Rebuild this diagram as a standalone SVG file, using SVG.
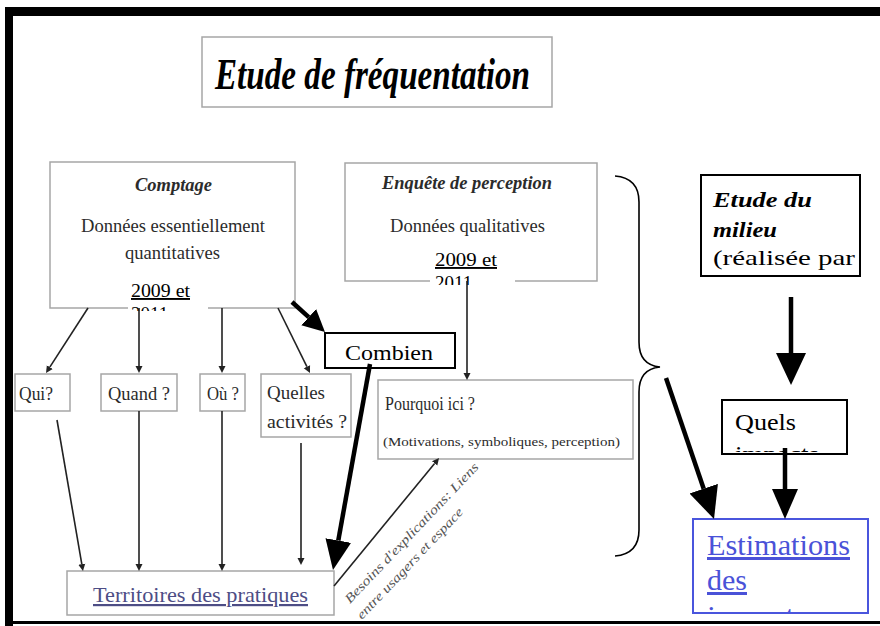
<svg xmlns="http://www.w3.org/2000/svg" width="880" height="626" viewBox="0 0 880 626">
<style>
.gbox{fill:#fff;stroke:#a6a6a6;stroke-width:1.5}
.bbox{fill:#fff;stroke:#000;stroke-width:2}
.gt{font-family:"Liberation Serif","Times New Roman",serif;fill:#2b2b2b}
.bt{font-family:"Liberation Serif","Times New Roman",serif;fill:#000}
.bi{font-weight:bold;font-style:italic}
.thin{stroke:#222;stroke-width:1.6;fill:none;marker-end:url(#hThin)}
.thick{stroke:#000;stroke-width:4.5;fill:none}
</style>
<defs>
<marker id="hThin" markerUnits="userSpaceOnUse" viewBox="0 -4 8 8" refX="0" refY="0" markerWidth="8" markerHeight="8" orient="auto"><path d="M0,-3.5 L7,0 L0,3.5 z" fill="#222"/></marker>
<marker id="hMid" markerUnits="userSpaceOnUse" viewBox="0 -12 24 24" refX="0" refY="0" markerWidth="24" markerHeight="24" orient="auto"><path d="M0,-11 L22,0 L0,11 z" fill="#000"/></marker>
<marker id="hBig" markerUnits="userSpaceOnUse" viewBox="0 -16 34 32" refX="0" refY="0" markerWidth="34" markerHeight="32" orient="auto"><path d="M0,-13 L30,0 L0,13 z" fill="#000"/></marker>
<marker id="hHuge" markerUnits="userSpaceOnUse" viewBox="0 -16 34 32" refX="0" refY="0" markerWidth="34" markerHeight="32" orient="auto"><path d="M0,-15 L32,0 L0,15 z" fill="#000"/></marker>
<clipPath id="cComp"><rect x="128" y="278" width="80" height="33"/></clipPath>
<clipPath id="cEnq"><rect x="430" y="248" width="85" height="37"/></clipPath>
<clipPath id="cQuels"><rect x="722" y="400" width="125" height="52"/></clipPath>
<clipPath id="cEst"><rect x="693" y="519" width="175" height="93"/></clipPath>
</defs>
<rect width="880" height="626" fill="#fff"/>

<g id="title">
<rect x="202" y="37" width="350" height="70" class="gbox" stroke="#8a8a8a"/>
<text x="215" y="89" class="bt bi" font-size="44" textLength="315" lengthAdjust="spacingAndGlyphs">Etude de fréquentation</text>
</g>

<g id="comptage">
<rect x="50" y="162" width="245" height="146" class="gbox"/>
<text x="135" y="191" class="gt bi" font-size="18" textLength="77" lengthAdjust="spacingAndGlyphs">Comptage</text>
<text x="81" y="232" class="gt" font-size="19" textLength="184" lengthAdjust="spacingAndGlyphs">Données essentiellement</text>
<text x="125" y="259" class="gt" font-size="19" textLength="95" lengthAdjust="spacingAndGlyphs">quantitatives</text>
<rect x="128" y="278" width="80" height="33" fill="#fff"/>
<g clip-path="url(#cComp)">
<text x="131" y="297" class="bt" font-size="19" textLength="59" lengthAdjust="spacingAndGlyphs" text-decoration="underline">2009 et</text>
<text x="131" y="320" class="bt" font-size="19">2011</text>
</g>
</g>

<g id="enquete">
<rect x="345" y="163" width="252" height="118" class="gbox"/>
<text x="382" y="189" class="gt bi" font-size="18" textLength="170" lengthAdjust="spacingAndGlyphs">Enquête de perception</text>
<text x="390" y="232" class="gt" font-size="19" textLength="155" lengthAdjust="spacingAndGlyphs">Données qualitatives</text>
<rect x="430" y="248" width="85" height="37" fill="#fff"/>
<g clip-path="url(#cEnq)">
<text x="435" y="266" class="bt" font-size="19" textLength="62" lengthAdjust="spacingAndGlyphs" text-decoration="underline">2009 et</text>
<text x="435" y="289" class="bt" font-size="19">2011</text>
</g>
</g>

<g id="qui">
<rect x="15" y="374" width="55" height="37" class="gbox"/>
<text x="19" y="400" class="gt" font-size="18" textLength="34" lengthAdjust="spacingAndGlyphs">Qui?</text>
</g>
<g id="quand">
<rect x="101" y="374" width="76" height="37" class="gbox"/>
<text x="108" y="400" class="gt" font-size="18" textLength="62" lengthAdjust="spacingAndGlyphs">Quand ?</text>
</g>
<g id="ou">
<rect x="200" y="374" width="45" height="37" class="gbox"/>
<text x="207" y="400" class="gt" font-size="18" textLength="32" lengthAdjust="spacingAndGlyphs">Où ?</text>
</g>
<g id="quelles">
<rect x="261" y="374" width="90" height="63" class="gbox"/>
<text x="267" y="399" class="gt" font-size="18" textLength="58" lengthAdjust="spacingAndGlyphs">Quelles</text>
<text x="267" y="428" class="gt" font-size="18" textLength="80" lengthAdjust="spacingAndGlyphs">activités ?</text>
</g>

<g id="pourquoi">
<rect x="378" y="380" width="255" height="79" class="gbox"/>
<text x="385" y="410" class="gt" font-size="18" textLength="90" lengthAdjust="spacingAndGlyphs">Pourquoi ici ?</text>
<text x="383" y="446" class="gt" font-size="13" textLength="237" lengthAdjust="spacingAndGlyphs">(Motivations, symboliques, perception)</text>
</g>

<g id="combien">
<rect x="325" y="333" width="130" height="35" class="bbox"/>
<text x="345" y="360" class="bt" font-size="22" textLength="88" lengthAdjust="spacingAndGlyphs">Combien</text>
</g>

<g id="territoires">
<rect x="67" y="571" width="267" height="44" class="gbox" stroke="#b4b4cc"/>
<text x="93" y="602" class="gt" font-size="22" fill="#4d4d85" style="fill:#4d4d85" textLength="215" lengthAdjust="spacingAndGlyphs" text-decoration="underline">Territoires des pratiques</text>
</g>

<g id="milieu">
<rect x="701" y="175" width="159" height="101" class="bbox"/>
<text x="713" y="207" class="bt bi" font-size="22" textLength="99" lengthAdjust="spacingAndGlyphs">Etude du</text>
<text x="713" y="237" class="bt bi" font-size="22" textLength="64" lengthAdjust="spacingAndGlyphs">milieu</text>
<text x="713" y="265" class="bt" font-size="22" textLength="142" lengthAdjust="spacingAndGlyphs">(réalisée par</text>
</g>

<g id="quels">
<rect x="722" y="400" width="125" height="54" class="bbox"/>
<g clip-path="url(#cQuels)">
<text x="735" y="430" class="bt" font-size="23" textLength="61" lengthAdjust="spacingAndGlyphs">Quels</text>
<text x="735" y="462" class="bt" font-size="23" textLength="84" lengthAdjust="spacingAndGlyphs">impacts</text>
</g>
</g>

<g id="estimations">
<rect x="693" y="519" width="175" height="94" fill="#fff" stroke="#4a55dd" stroke-width="2"/>
<g clip-path="url(#cEst)">
<text x="707" y="555" class="bt" font-size="30" fill="#4a52d8" style="fill:#4a52d8" textLength="143" lengthAdjust="spacingAndGlyphs" text-decoration="underline">Estimations</text>
<text x="707" y="590" class="bt" font-size="30" style="fill:#4a52d8" text-decoration="underline">des</text>
<text x="707" y="626" class="bt" font-size="30" style="fill:#4a52d8" textLength="100" lengthAdjust="spacingAndGlyphs">impacts</text>
</g>
</g>

<g id="label-besoins">
<text transform="translate(350,604) rotate(-46.5)" class="gt" font-size="13" font-style="italic" style="fill:#555" textLength="188" lengthAdjust="spacingAndGlyphs">Besoins d'explications: Liens</text>
<text transform="translate(362,620) rotate(-46.5)" class="gt" font-size="13" font-style="italic" style="fill:#555" textLength="148" lengthAdjust="spacingAndGlyphs">entre usagers et espace</text>
</g>

<g id="connectors">
<line x1="88" y1="308" x2="49.8" y2="367.1" class="thin"/>
<line x1="139" y1="308" x2="139" y2="366" class="thin"/>
<line x1="222" y1="308" x2="222" y2="366" class="thin"/>
<line x1="278" y1="308" x2="306.9" y2="366.7" class="thin"/>
<line x1="467" y1="281" x2="467" y2="373" class="thin"/>
<line x1="57" y1="420" x2="81.8" y2="564.1" class="thin"/>
<line x1="139" y1="411" x2="139" y2="564" class="thin"/>
<line x1="222" y1="411" x2="222" y2="564" class="thin"/>
<line x1="301" y1="443" x2="301" y2="558" class="thin"/>
<line x1="334" y1="586" x2="434.6" y2="463.4" class="thin"/>
<line x1="292" y1="302" x2="308.7" y2="317.2" class="thick" stroke-width="4" marker-end="url(#hMid)"/>
<line x1="370" y1="364" x2="338.3" y2="540.5" class="thick" stroke-width="4" marker-end="url(#hBig)"/>
<line x1="666" y1="378" x2="703.7" y2="488.7" class="thick" stroke-width="5" marker-end="url(#hHuge)"/>
<line x1="791" y1="297" x2="791" y2="353" class="thick" stroke-width="5" marker-end="url(#hHuge)"/>
<line x1="785" y1="448" x2="785" y2="489" class="thick" stroke-width="5" marker-end="url(#hBig)"/>
<path d="M615,176 Q639,178 639,202 L639,342 Q639,365 660,367 Q639,369 639,392 L639,530 Q639,554 615,556" fill="none" stroke="#000" stroke-width="1.6"/>
</g>

<g id="frame">
<rect x="5" y="7" width="875" height="9" fill="#000"/>
<rect x="5" y="7" width="8" height="619" fill="#000"/>
<rect x="5" y="621" width="875" height="3" fill="#000"/>
</g>
</svg>
